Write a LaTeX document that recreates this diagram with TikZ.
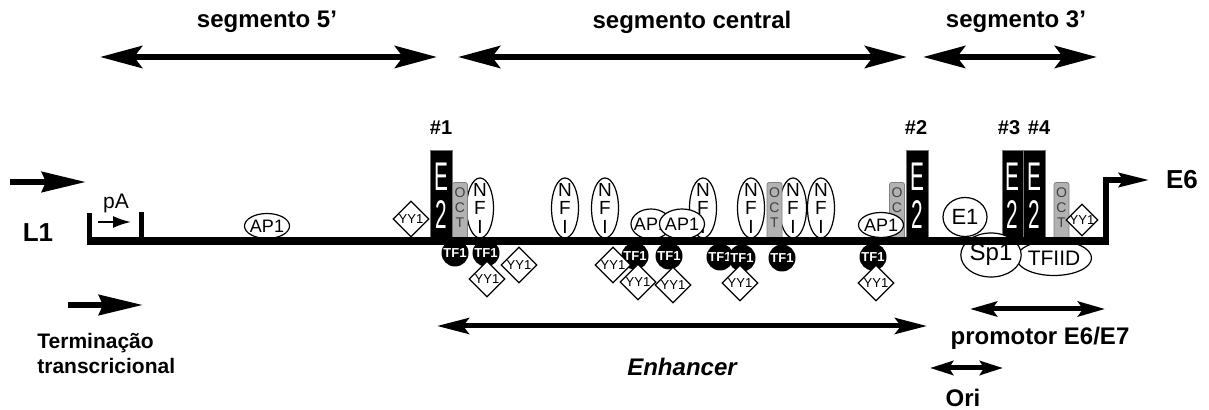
\documentclass[tikz,border=0pt]{standalone}
\usepackage{fontspec}
\setmainfont{Liberation Sans}
\usepackage{graphicx}
\usetikzlibrary{shapes, arrows.meta, calc, positioning}

\newcommand{\slim}[1]{\scalebox{0.52}[1]{#1}}

\begin{document}
\begin{tikzpicture}[x=0.5pt, y=-0.5pt, >=latex,
    lbl/.style={font=\fontsize{12}{14}\selectfont\bfseries},
    site/.style={font=\fontsize{10}{12}\selectfont\bfseries},
    seg/.style={line width=3.2pt, {Stealth[length=21pt, width=11pt, inset=4pt]}-{Stealth[length=21pt, width=11pt, inset=4pt]}},
    fwd/.style={line width=3pt, -{Stealth[length=22pt, width=10pt, inset=2pt]}},
    dna/.style={line width=4.4pt},
    ebox/.style={anchor=south, fill=black, draw=black!55, line width=0.3pt, minimum width=11pt, minimum height=45pt, inner sep=0pt, text=white, align=center, font=\fontsize{20}{19}\selectfont},
    octbox/.style={anchor=south, fill=black!30, draw=black!50, line width=0.4pt, rounded corners=1pt, minimum width=7.5pt, minimum height=29pt, inner sep=0pt, label={[align=center, yshift=2pt, text=black!75, font=\fontsize{7}{7.3}\selectfont]center:{#1}}},
    octbox/.default={O\\C\\T},
    nfi/.style={ellipse, draw, fill=white, line width=0.6pt, minimum width=13.5pt, minimum height=30pt, inner sep=0pt, label={[align=center, font=\fontsize{9.5}{9.25}\selectfont]center:{N\\F\\I}}},
    apone/.style={ellipse, draw, fill=white, line width=0.6pt, minimum width=22.5pt, minimum height=13pt, inner sep=0pt, label={[font=\fontsize{9}{9}\selectfont]center:AP1}},
    tfone/.style={circle, fill=black, minimum size=13.5pt, inner sep=0pt, text=white, font=\fontsize{6.5}{6.5}\selectfont\bfseries},
    yyone/.style={diamond, draw, fill=white, line width=0.6pt, minimum size=18pt, inner sep=0pt, label={[font=\fontsize{6.5}{6.5}\selectfont]center:YY1}},
    blob/.style={ellipse, draw, fill=white, line width=0.6pt, inner sep=0pt}
]
    \useasboundingbox (0,0) rectangle (1209,410);

    % segments on top
    \node[lbl] (seg5) at (267,22) {segmento 5’};
    \node[lbl] (segc) at (692,22) {segmento central};
    \node[lbl] (seg3) at (1016,22) {segmento 3’};
    \coordinate (seg5a) at (100,57);
    \coordinate (seg5b) at (437,57);
    \coordinate (segca) at (458,57);
    \coordinate (segcb) at (907,57);
    \coordinate (seg3a) at (923,57);
    \coordinate (seg3b) at (1097,57);
    \draw[seg] (seg5a) -- (seg5b);
    \draw[seg] (segca) -- (segcb);
    \draw[seg] (seg3a) -- (seg3b);

    \node[site] (site1) at (441,128) {\#1};
    \node[site] (site2) at (916,128) {\#2};
    \node[site] (site3) at (1009,128) {\#3};
    \node[site] (site4) at (1039,128) {\#4};

    % left end
    \coordinate (lateA) at (10,182);
    \coordinate (lateB) at (86,182);
    \draw[fwd] (lateA) -- (lateB);
    \node[font=\fontsize{13}{13}\selectfont\bfseries] (lone) at (38,233) {L1};
    \node[font=\fontsize{10.5}{10.5}\selectfont] (pa) at (116,203) {pA};
    \coordinate (paA) at (98,222);
    \coordinate (paB) at (131,222);
    \draw[line width=1pt, -{Latex[length=9pt, width=6pt]}] (paA) -- (paB);

    % factors above the line
    \node[nfi] (nfi1) at (480,208) {};
    \node[nfi] (nfi2) at (565,208) {};
    \node[nfi] (nfi3) at (605,208) {};
    \node[nfi] (nfi4) at (703,208) {};
    \node[nfi] (nfi5) at (751,208) {};
    \node[nfi] (nfi6) at (793,208) {};
    \node[nfi] (nfi7) at (821,208) {};

    \node[octbox] (oct1) at (460,241) {};
    \node[octbox] (oct2) at (774.5,241) {};
    \node[octbox={O\\C\\\phantom{T}}] (oct3) at (897,241) {};
    \node[octbox] (oct4) at (1061.5,241) {};

    \node[ebox] (e2a) at (441,241) {\slim{E}\\\slim{2}};
    \node[ebox] (e2b) at (917,241) {\slim{E}\\\slim{2}};
    \node[ebox, minimum width=10.5pt] (e2c) at (1012.5,241) {\slim{E}\\\slim{2}};
    \node[ebox] (e2d) at (1034,241) {\slim{E}\\\slim{2}};

    \node[apone, minimum height=12.5pt] (ap1) at (267,226) {};
    \node[apone, minimum width=20pt, minimum height=15pt] (ap2) at (651,224) {};
    \node[apone, minimum height=15pt] (ap3) at (682,224) {};
    \node[apone, minimum height=12.5pt] (ap4) at (881,225) {};

    \node[yyone] (yy1) at (411,219) {};
    \node[yyone, minimum size=16pt] (yy9) at (1082,220) {};
    \node[blob, minimum width=22pt, minimum height=19.5pt, font=\fontsize{11}{11}\selectfont] (eone) at (965,217) {E1};

    % factors below the line
    \node[blob, minimum width=37.5pt, minimum height=17.5pt, font=\fontsize{10.5}{10.5}\selectfont] (tfiid) at (1054,258) {TFIID};
    \node[blob, minimum width=29pt, minimum height=22pt, font=\fontsize{12}{12}\selectfont] (spone) at (991,255) {Sp1};

    \node[tfone] (tf1) at (455,253) {TF1};
    \node[tfone] (tf2) at (486,253) {TF1};
    \node[tfone] (tf3) at (635,256) {TF1};
    \node[tfone] (tf4) at (669,256) {TF1};
    \node[tfone] (tf5) at (720,257) {TF1};
    \node[tfone] (tf6) at (742,258) {TF1};
    \node[tfone] (tf7) at (782,258) {TF1};
    \node[tfone] (tf8) at (873,257) {TF1};

    \node[yyone] (yy2) at (487,279) {};
    \node[yyone] (yy3) at (519,265) {};
    \node[yyone] (yy4) at (613,265) {};
    \node[yyone] (yy5) at (638,282) {};
    \node[yyone] (yy6) at (673,285) {};
    \node[yyone] (yy7) at (740,283) {};
    \node[yyone] (yy8) at (876,283) {};

    % the DNA
    \coordinate (dnaL) at (87.3,241);
    \coordinate (dnaR) at (1108.6,241);
    \coordinate (brA) at (89.5,213);
    \coordinate (brB) at (89.5,242);
    \coordinate (brC) at (141.5,212);
    \coordinate (brD) at (141.5,241);
    \draw[dna] (dnaL) -- (dnaR);
    \draw[line width=2.2pt] (brA) -- (brB);
    \draw[line width=2.2pt] (brC) -- (brD);
    \node[font=\fontsize{13}{13}\selectfont\bfseries] (esix) at (1182,180) {E6};
    \coordinate (bend) at (1106,243);
    \draw[line width=2.6pt, -{Stealth[length=15pt, width=7pt, inset=2pt]}] (bend) |- ([xshift=-5pt]esix.west);

    % bottom
    \coordinate (termA) at (68,305);
    \coordinate (termB) at (143,305);
    \draw[fwd] (termA) -- (termB);
    \node[anchor=west, align=left, inner sep=0pt, font=\fontsize{10.5}{12.5}\selectfont\bfseries] (term) at (37,353.5) {Terminação\\transcricional};

    \coordinate (enhA) at (437,326);
    \coordinate (enhB) at (927,326);
    \draw[line width=2.5pt, {Stealth[length=16pt, width=8pt, inset=3pt]}-{Stealth[length=16pt, width=8pt, inset=3pt]}] (enhA) -- (enhB);
    \node[font=\fontsize{12}{14}\selectfont\bfseries\itshape] (enh) at (682,367) {Enhancer};

    \coordinate (promA) at (970,309);
    \coordinate (promB) at (1105,309);
    \draw[line width=2.5pt, {Stealth[length=13.5pt, width=7.5pt, inset=2.5pt]}-{Stealth[length=13.5pt, width=7.5pt, inset=2.5pt]}] (promA) -- (promB);
    \node[lbl] (prom) at (1040,338) {promotor E6/E7};

    \coordinate (oriA) at (930,368);
    \coordinate (oriB) at (1003,368);
    \draw[line width=2.5pt, {Stealth[length=11.5pt, width=7pt, inset=2pt]}-{Stealth[length=11.5pt, width=7pt, inset=2pt]}] (oriA) -- (oriB);
    \node[lbl] (ori) at (963,398) {Ori};

\end{tikzpicture}
\end{document}
